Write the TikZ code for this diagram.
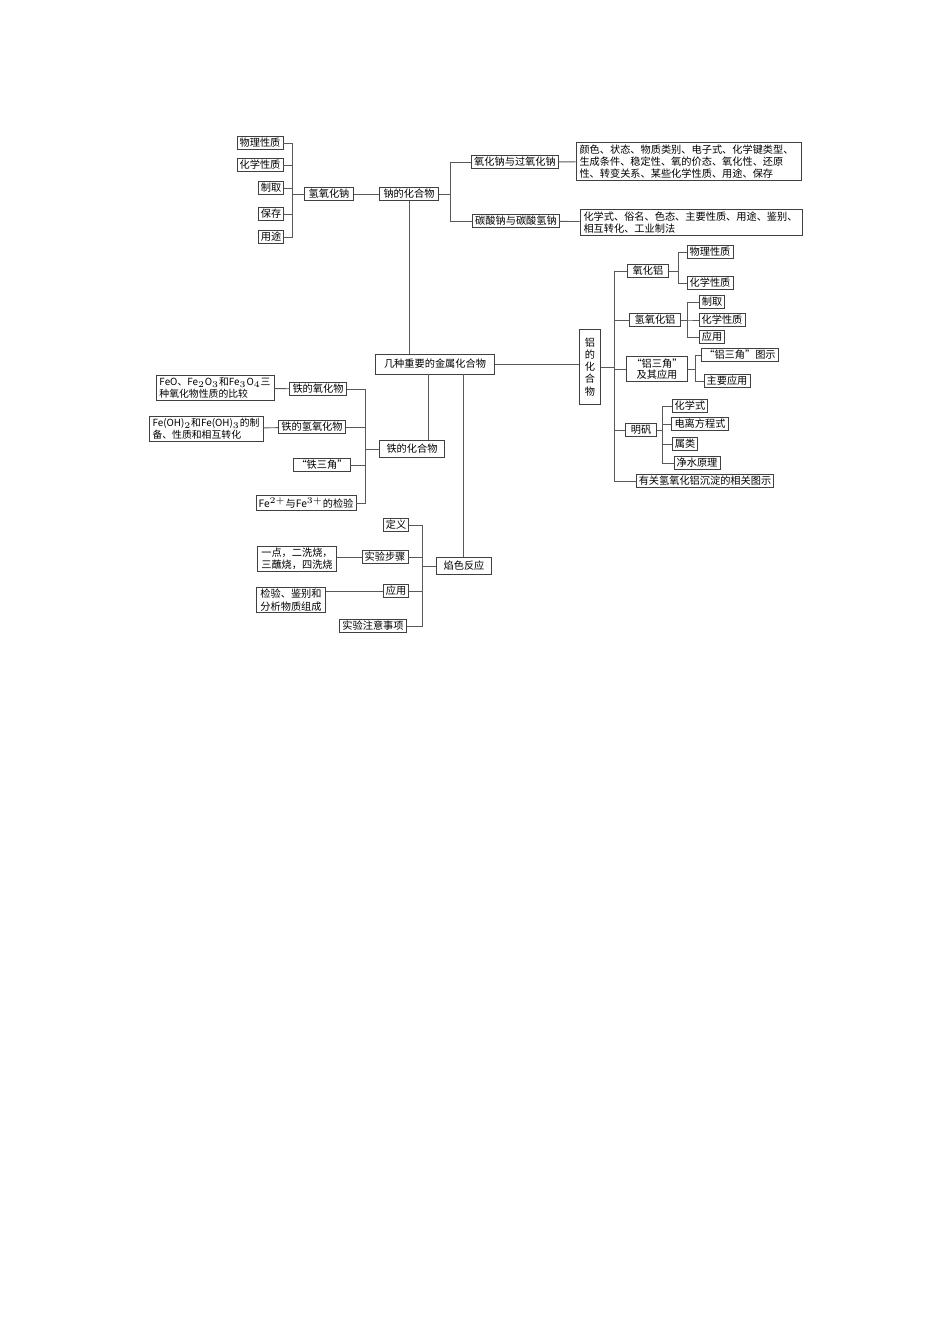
\documentclass[tikz,border=0pt]{standalone}
\usepackage{fontspec}
\setmainfont{Noto Sans CJK SC}
\usetikzlibrary{calc}
\begin{document}
\begin{tikzpicture}[x=0.02cm,y=-0.02cm,
  bx/.style={draw=black!75,line width=0.5pt,inner xsep=1.5pt,inner ysep=1pt,font=\fontsize{5.8}{7}\selectfont,fill=white},
  ds/.style={bx,align=left,inner xsep=2pt},
  ln/.style={draw=black!65,line width=0.5pt}]
\useasboundingbox (0,0) rectangle (950,1344);
% Na
\node[bx] (n1) at (260,143) {物理性质};
\node[bx] (n2) at (260,165) {化学性质};
\node[bx] (n3) at (271,188) {制取};
\node[bx] (n4) at (271,214) {保存};
\node[bx] (n5) at (271,237) {用途};
\node[bx,minimum width=55\pgflinewidth] (naoh) at (329,194) {\,氢氧化钠\,};
\node[bx] (na) at (409,194) {\,钠的化合物\,};
\node[bx] (na1) at (515,162) {氧化钠与过氧化钠};
\node[bx] (na2) at (516,221) {碳酸钠与碳酸氢钠};
\node[ds,text width=4.36cm] (d1) at (688.5,161.5) {颜色、状态、物质类别、电子式、化学键类型、\\生成条件、稳定性、氧的价态、氧化性、还原\\性、转变关系、某些化学性质、用途、保存};
\node[ds,text width=4.3cm] (d2) at (691,222.5) {化学式、俗名、色态、主要性质、用途、鉴别、\\相互转化、工业制法};
\foreach \c in {n1,n2,n3,n4,n5}{\draw[ln] (\c.east) -| ($(naoh.west)+(-11,0)$) -- (naoh.west);}
\draw[ln] (naoh) -- (na);
\foreach \c in {na1,na2}{\draw[ln] (na.east) -- ++(11,0) |- (\c.west);}
\draw[ln] (na1) -- (d1);
\draw[ln] (na2) -- (d2);
% center
\node[bx,inner xsep=5pt,inner ysep=3pt] (c) at (435,364) {几种重要的金属化合物};
\draw[ln] (na.south) -- (na.south |- c.north);
% Al
\node[bx,align=center,inner xsep=3pt,minimum height=75*0.02cm,font=\fontsize{5.8}{6.9}\selectfont] (al) at (590,367) {铝\\的\\化\\合\\物};
\draw[ln] (c.east) -- (c.east -| al.west);
\node[bx,inner xsep=3pt] (a1) at (648,271) {氧化铝};
\node[bx,inner xsep=3pt] (a2) at (655,320) {氢氧化铝};
\node[bx,align=center,inner xsep=3pt,font=\fontsize{5.8}{6.6}\selectfont] (a3) at (657,369) {“铝三角”\\及其应用};
\node[bx,inner xsep=3pt] (a4) at (641,430) {明矾};
\node[bx] (a5) at (705,481) {有关氢氧化铝沉淀的相关图示};
\foreach \c in {a1,a2,a3,a4,a5}{\draw[ln] (al.east) -- ++(14,0) |- (\c.west);}
\node[bx] (a11) at (710,252) {物理性质};
\node[bx] (a12) at (710,283) {化学性质};
\foreach \c in {a11,a12}{\draw[ln] (a1.east) -- ++(9,0) |- (\c.west);}
\node[bx] (a21) at (712,302) {制取};
\node[bx] (a22) at (722,320) {化学性质};
\node[bx] (a23) at (712,337) {应用};
\foreach \c in {a21,a22,a23}{\draw[ln] (a2.east) -- ++(6,0) |- (\c.west);}
\node[bx] (a31) at (740,355) {“铝三角”图示};
\node[bx] (a32) at (727,381) {主要应用};
\foreach \c in {a31,a32}{\draw[ln] (a3.east) -- ++(7,0) |- (\c.west);}
\node[bx] (a41) at (690,406) {化学式};
\node[bx] (a42) at (700,424) {电离方程式};
\node[bx] (a43) at (685,444) {属类};
\node[bx] (a44) at (697,463) {净水原理};
\foreach \c in {a41,a42,a43,a44}{\draw[ln] (a4.east) -- ++(6,0) |- (\c.west);}
% Fe
\node[bx,inner xsep=4pt,inner ysep=2pt] (fe) at (412,449) {铁的化合物};
\coordinate (cfe) at ($(c.south)+(-7,0)$);
\draw[ln] (cfe) -- (cfe |- fe.north);
\node[bx] (f1) at (318,389) {铁的氧化物};
\node[bx] (f2) at (312,427) {铁的氢氧化物};
\node[bx] (f3) at (322,465) {“铁三角”};
\node[bx] (f4) at (306,503) {Fe$^{2+}$与Fe$^{3+}$的检验};
\foreach \c in {f1,f2,f3,f4}{\draw[ln] (\c.east) -| ($(fe.west)+(-14,0)$) -- (fe.west);}
\node[ds,font=\fontsize{5.6}{6.8}\selectfont] (fd1) at (215,388) {FeO、Fe$_2$O$_3$和Fe$_3$O$_4$三\\种氧化物性质的比较};
\node[ds,font=\fontsize{5.6}{6.8}\selectfont] (fd2) at (206,429) {Fe(OH)$_2$和Fe(OH)$_3$的制\\备、性质和相互转化};
\draw[ln] (fd1) -- (f1);
\draw[ln] (fd2) -- (f2);
% flame
\node[bx,inner xsep=4pt,inner ysep=2pt] (fl) at (464,566) {焰色反应};
\coordinate (cfl) at ($(c.south)+(28,0)$);
\draw[ln] (cfl) -- (cfl |- fl.north);
\node[bx] (l1) at (396,525) {定义};
\node[bx] (l2) at (385,557) {实验步骤};
\node[bx] (l3) at (396,591) {应用};
\node[bx] (l4) at (373,626) {实验注意事项};
\foreach \c in {l1,l2,l3,l4}{\draw[ln] (\c.east) -| ($(fl.west)+(-14,0)$) -- (fl.west);}
\node[ds] (ld2) at (297,559) {一点，二洗烧，\\三蘸烧，四洗烧};
\node[ds] (ld3) at (291,600) {检验、鉴别和\\分析物质组成};
\draw[ln] (ld2.east |- l2) -- (l2);
\draw[ln] (ld3.east |- l3) -- (l3);
\end{tikzpicture}
\end{document}
